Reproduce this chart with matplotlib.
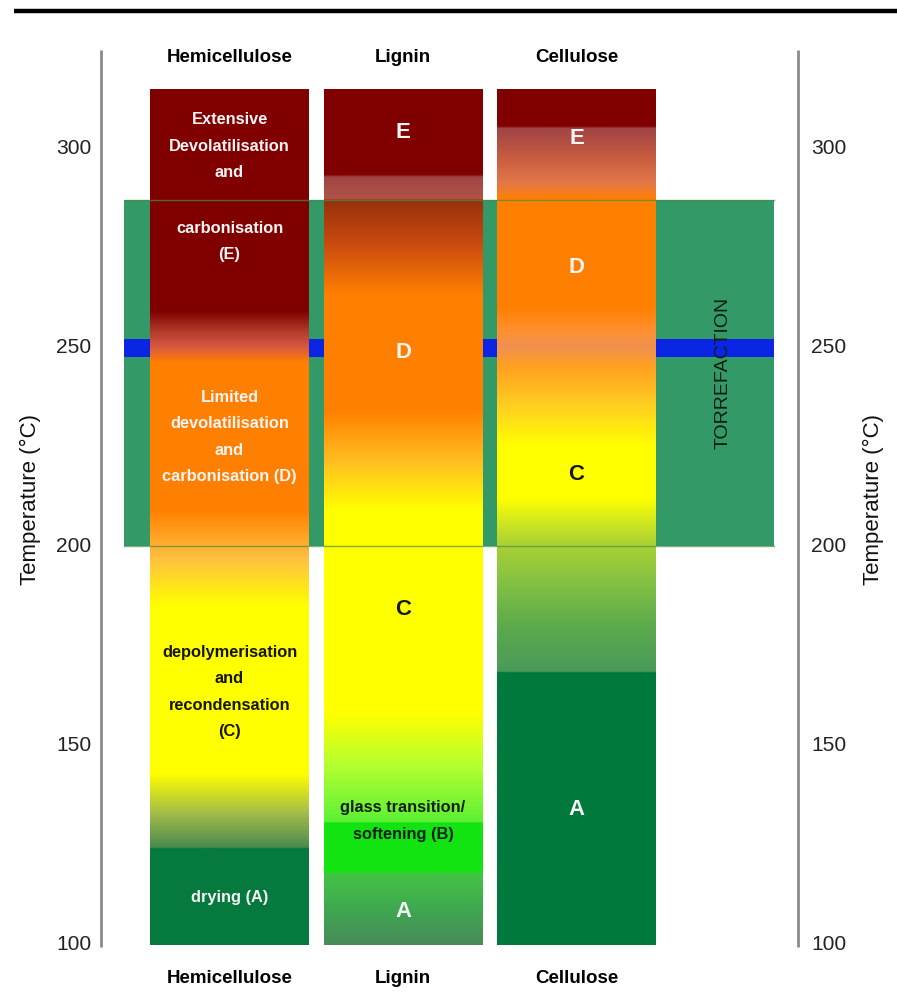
import numpy as np
import matplotlib.pyplot as plt
from matplotlib import font_manager
from matplotlib.patches import Rectangle
from matplotlib.colors import to_rgb

plt.rcParams['font.family'] = ['Liberation Sans', 'DejaVu Sans']
installed = {f.name for f in font_manager.fontManager.ttflist}
has_narrow = 'Liberation Sans Narrow' in installed
narrow = ['Liberation Sans Narrow', 'DejaVu Sans'] if has_narrow else ['Liberation Sans', 'DejaVu Sans']
k = 1.0 if has_narrow else 0.84   # shrink sizes when the narrow face is missing

columns = ['Hemicellulose', 'Lignin', 'Cellulose']
t_min, t_max = 100, 314.6
torr_low, torr_high = 200, 287
blue_temp = 250
y_ticks = [100, 150, 200, 250, 300]

# colour stops (temperature, colour) up each column
hemi_stops = [(100, '#067a3e'), (124.2, '#067a3e'), (124.4, '#4a8a4e'), (133, '#a4bc48'),
              (143, '#ffff00'), (185, '#ffff00'), (197, '#ffc040'), (209, '#ff8000'),
              (246, '#ff8000'), (250, '#d85840'), (254, '#b03a2a'), (259, '#800000'),
              (315, '#800000')]
lignin_stops = [(100, '#4a8a58'), (109, '#3ea850'), (118, '#44c444'), (118.2, '#12e412'),
                (130.6, '#12e412'), (130.8, '#5cf034'), (145, '#b4ff30'), (158, '#ffff00'),
                (209, '#ffff00'), (221, '#ffc020'), (234, '#ff8000'), (263, '#ff8000'),
                (276, '#c84a10'), (286.8, '#98300c'), (287.2, '#b05448'), (292.6, '#a04444'),
                (293.2, '#800000'), (315, '#800000')]
cell_stops = [(100, '#007a3c'), (168.3, '#007a3c'), (168.6, '#4a9a5a'), (180, '#5caa4c'),
              (190, '#80c044'), (200, '#a8d034'), (206, '#d0e820'), (212, '#ffff00'),
              (225, '#ffff00'), (235, '#ffd020'), (245, '#ffa020'), (250, '#f09050'),
              (254, '#ff9030'), (260, '#ff8000'), (287, '#ff8000'), (291, '#e47848'),
              (298, '#c45a40'), (304.8, '#a04444'), (305.4, '#800000'), (315, '#800000')]
column_stops = [hemi_stops, lignin_stops, cell_stops]

# text inside the columns: (column index, temperature, text, colour, size)
col_labels = [
    (0, 300.4, 'Extensive\nDevolatilisation\nand', '#fbf4f4', 14),
    (0, 276.5, 'carbonisation\n(E)', '#fbf4f4', 14),
    (0, 227.5, 'Limited\ndevolatilisation\nand\ncarbonisation (D)', '#fbf4f4', 14),
    (0, 163.5, 'depolymerisation\nand\nrecondensation\n(C)', '#161600', 14),
    (0, 111.8, 'drying (A)', '#f4f4f4', 14),
    (1, 304.0, 'E', '#fbf4f4', 19),
    (1, 248.6, 'D', '#fbf4f4', 19),
    (1, 184.1, 'C', '#161600', 19),
    (1, 131.1, 'glass transition/\nsoftening (B)', '#102010', 14),
    (1, 108.5, 'A', '#f4f4f4', 19),
    (2, 302.3, 'E', '#fbf4f4', 19),
    (2, 270.0, 'D', '#fbf4f4', 19),
    (2, 218.1, 'C', '#161600', 19),
    (2, 133.9, 'A', '#f4f4f4', 19),
]

fig = plt.figure(figsize=(8.97, 9.94), dpi=100)
ax = fig.add_axes([0, 0, 1, 1])
ax.axis('off')

col_w = 0.916
x_torr = (-0.608, 3.138)
x_left_axis, x_right_axis = -0.741, 3.277

# torrefaction window and the 250 line behind the columns
ax.add_patch(Rectangle((x_torr[0], torr_low), x_torr[1] - x_torr[0], torr_high - torr_low,
                       facecolor='#339966', edgecolor='none', zorder=1))
ax.add_patch(Rectangle((x_torr[0], blue_temp - 2.4), x_torr[1] - x_torr[0], 4.4,
                       facecolor='#0a26e4', edgecolor='none', zorder=2))

temps = np.linspace(t_min, t_max, 1500)
for i, stops in enumerate(column_stops):
    st = np.array([s[0] for s in stops])
    rgb = np.array([to_rgb(s[1]) for s in stops])
    img = np.stack([np.interp(temps, st, rgb[:, j]) for j in range(3)], axis=-1)
    img = np.repeat(img[:, None, :], 2, axis=1)
    ax.imshow(img, extent=(i - col_w / 2, i + col_w / 2, t_min, t_max), origin='lower',
              aspect='auto', interpolation='bilinear', zorder=3)

# faint band edges across the columns
for t in (torr_low, torr_high):
    ax.plot(x_torr, [t, t], color='#4d8a4a', lw=1, alpha=0.7, zorder=4)

for ci, t, txt, c, fs in col_labels:
    ax.text(ci, t, txt, ha='center', va='center', color=c, fontsize=fs * k,
            fontweight='bold', linespacing=1.65 / k, family=narrow, zorder=5)

ax.text(2.844, (torr_low + torr_high) / 2, 'TORREFACTION', rotation=90, ha='center',
        va='center', fontsize=14, color='#0f1c14', zorder=5)

for i, name in enumerate(columns):
    ax.text(i, 322.8, name, ha='center', va='center', fontsize=13.5, fontweight='bold')
    ax.text(i, 91.7, name, ha='center', va='center', fontsize=13.5, fontweight='bold')

# axis lines, ticks and titles on both sides
axis_mid = 211.7
for xa, xt, xl in [(x_left_axis, -0.896, -1.150), (x_right_axis, 3.455, 3.709)]:
    ax.plot([xa, xa], [99.5, 324.6], color='#8a8a8a', lw=2, solid_capstyle='butt')
    for v in y_ticks:
        ax.text(xt, v, str(v), ha='center', va='center', fontsize=18 * k, color='#222222',
                family=narrow)
    ax.text(xl, axis_mid, 'Temperature (°C)', rotation=90, ha='center', va='center',
            fontsize=16, color='#111111')

ax.plot([-1.242, 3.85], [334.4, 334.4], color='black', lw=3.2, solid_capstyle='butt')

ax.set_xlim(-1.3228, 3.8473)
ax.set_ylim(87.70, 337.14)

fig.savefig('out.png', dpi=100)
